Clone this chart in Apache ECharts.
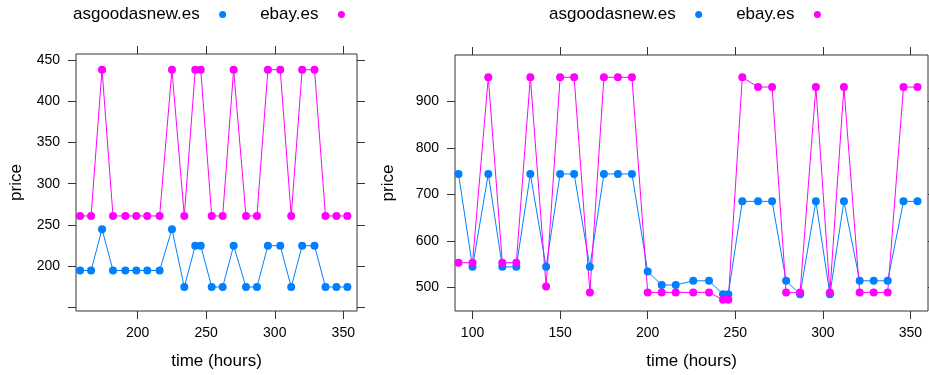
<!DOCTYPE html>
<html>
<head>
<meta charset="utf-8">
<title>price over time</title>
<script src="https://cdn.jsdelivr.net/npm/echarts@6/dist/echarts.min.js"></script>
<style>
  html, body { margin: 0; padding: 0; background: #fff; }
  #chart { width: 929px; height: 375px; }
</style>
</head>
<body>
<div id="chart"></div>
<script>
// left panel
const hoursLeft = [158, 166, 174, 182, 191, 199, 207, 216, 225, 234, 242, 246, 254,
  262, 270, 279, 287, 295, 304, 312, 320, 329, 337, 345, 353];
const asgoodLeft = [195, 195, 245, 195, 195, 195, 195, 195, 245, 175, 225, 225, 175,
  175, 225, 175, 175, 225, 225, 175, 225, 225, 175, 175, 175];
const ebayLeft = [261, 261, 438, 261, 261, 261, 261, 261, 438, 261, 438, 438, 261,
  261, 438, 261, 261, 438, 438, 261, 438, 438, 261, 261, 261];

// right panel
const hoursRight = [92, 100, 109, 117, 125, 133, 142, 150, 158, 167, 175, 183, 191,
  200, 208, 216, 226, 235, 243, 246, 254, 263, 271, 279, 287, 296, 304, 312, 321,
  329, 337, 346, 354];
const asgoodRight = [744, 544, 744, 544, 544, 744, 544, 744, 744, 544, 744, 744, 744,
  534, 505, 505, 514, 514, 485, 485, 685, 685, 685, 514, 485, 685, 485, 685, 514,
  514, 514, 685, 685];
const ebayRight = [553, 553, 952, 553, 553, 952, 502, 952, 952, 489, 952, 952, 952,
  489, 489, 489, 489, 489, 473, 473, 952, 931, 931, 489, 489, 931, 489, 931, 489,
  489, 489, 931, 931];

// tick labels
const xTicksLeft = [200, 250, 300, 350];
const yTicksLeft = [150, 200, 250, 300, 350, 400, 450];
const yLabelsLeft = [200, 250, 300, 350, 400, 450];
const xTicksRight = [100, 150, 200, 250, 300, 350];
const yTicksRight = [500, 600, 700, 800, 900];

const seriesNames = ['asgoodasnew.es', 'ebay.es'];
const colors = ['#0080ff', '#ff00ff'];
const FONT = '"Liberation Sans", Arial, Helvetica, sans-serif';
const INK = '#333';

function zip(xs, ys) {
  return xs.map((x, i) => [x, ys[i]]);
}

function xAxis(gridIndex, position, min, max, ticks, withLabels) {
  return {
    type: 'value',
    gridIndex: gridIndex,
    position: position,
    min: min,
    max: max,
    axisLine: { show: false },
    splitLine: { show: false },
    axisTick: { show: true, inside: false, length: 8, customValues: ticks,
      lineStyle: { color: INK, width: 1 } },
    axisLabel: { show: withLabels, customValues: ticks, margin: 15,
      color: '#000', fontSize: 14, fontFamily: FONT },
    name: withLabels ? 'time (hours)' : '',
    nameLocation: 'middle',
    nameGap: 42,
    nameTextStyle: { color: '#000', fontSize: 17, fontFamily: FONT },
  };
}

function yAxis(gridIndex, position, min, max, ticks, labels, nameGap) {
  return {
    type: 'value',
    gridIndex: gridIndex,
    position: position,
    min: min,
    max: max,
    axisLine: { show: false },
    splitLine: { show: false },
    axisTick: { show: true, inside: false, length: 8, customValues: ticks,
      lineStyle: { color: INK, width: 1 } },
    axisLabel: { show: labels.length > 0, customValues: labels, margin: 16,
      color: '#000', fontSize: 14, fontFamily: FONT },
    name: labels.length > 0 ? 'price' : '',
    nameLocation: 'middle',
    nameGap: nameGap,
    nameTextStyle: { color: '#000', fontSize: 17, fontFamily: FONT },
  };
}

function lineSeries(name, color, xi, yi, data) {
  return {
    name: name,
    type: 'line',
    xAxisIndex: xi,
    yAxisIndex: yi,
    data: data,
    symbol: 'circle',
    symbolSize: 8,
    showSymbol: true,
    lineStyle: { width: 1, color: color },
    itemStyle: { color: color, borderWidth: 0 },
    emphasis: { disabled: true },
  };
}

function legend(left) {
  return {
    data: seriesNames,
    left: left,
    top: 6,
    padding: 0,
    align: 'right',
    icon: 'circle',
    itemWidth: 36,
    itemHeight: 7,
    itemGap: 34,
    textStyle: { color: '#000', fontSize: 17, fontFamily: FONT },
  };
}

const chart = echarts.init(document.getElementById('chart'));
chart.setOption({
  animation: false,
  color: colors,
  legend: [legend(73), legend(549)],
  grid: [
    { left: 76, top: 54, width: 281, height: 261, show: true,
      borderColor: INK, borderWidth: 1, backgroundColor: 'transparent' },
    { left: 455, top: 55, width: 473, height: 259, show: true,
      borderColor: INK, borderWidth: 1, backgroundColor: 'transparent' },
  ],
  xAxis: [
    xAxis(0, 'bottom', 155, 360, xTicksLeft, true),
    xAxis(0, 'top', 155, 360, xTicksLeft, false),
    xAxis(1, 'bottom', 90, 360, xTicksRight, true),
    xAxis(1, 'top', 90, 360, xTicksRight, false),
  ],
  yAxis: [
    yAxis(0, 'left', 146, 457, yTicksLeft, yLabelsLeft, 51),
    yAxis(0, 'right', 146, 457, yTicksLeft, [], 0),
    yAxis(1, 'left', 449, 1000, yTicksRight, yTicksRight, 58),
    yAxis(1, 'right', 449, 1000, yTicksRight, [], 0),
  ],
  series: [
    lineSeries(seriesNames[0], colors[0], 0, 0, zip(hoursLeft, asgoodLeft)),
    lineSeries(seriesNames[1], colors[1], 0, 0, zip(hoursLeft, ebayLeft)),
    lineSeries(seriesNames[0], colors[0], 2, 2, zip(hoursRight, asgoodRight)),
    lineSeries(seriesNames[1], colors[1], 2, 2, zip(hoursRight, ebayRight)),
  ],
});
</script>
</body>
</html>
